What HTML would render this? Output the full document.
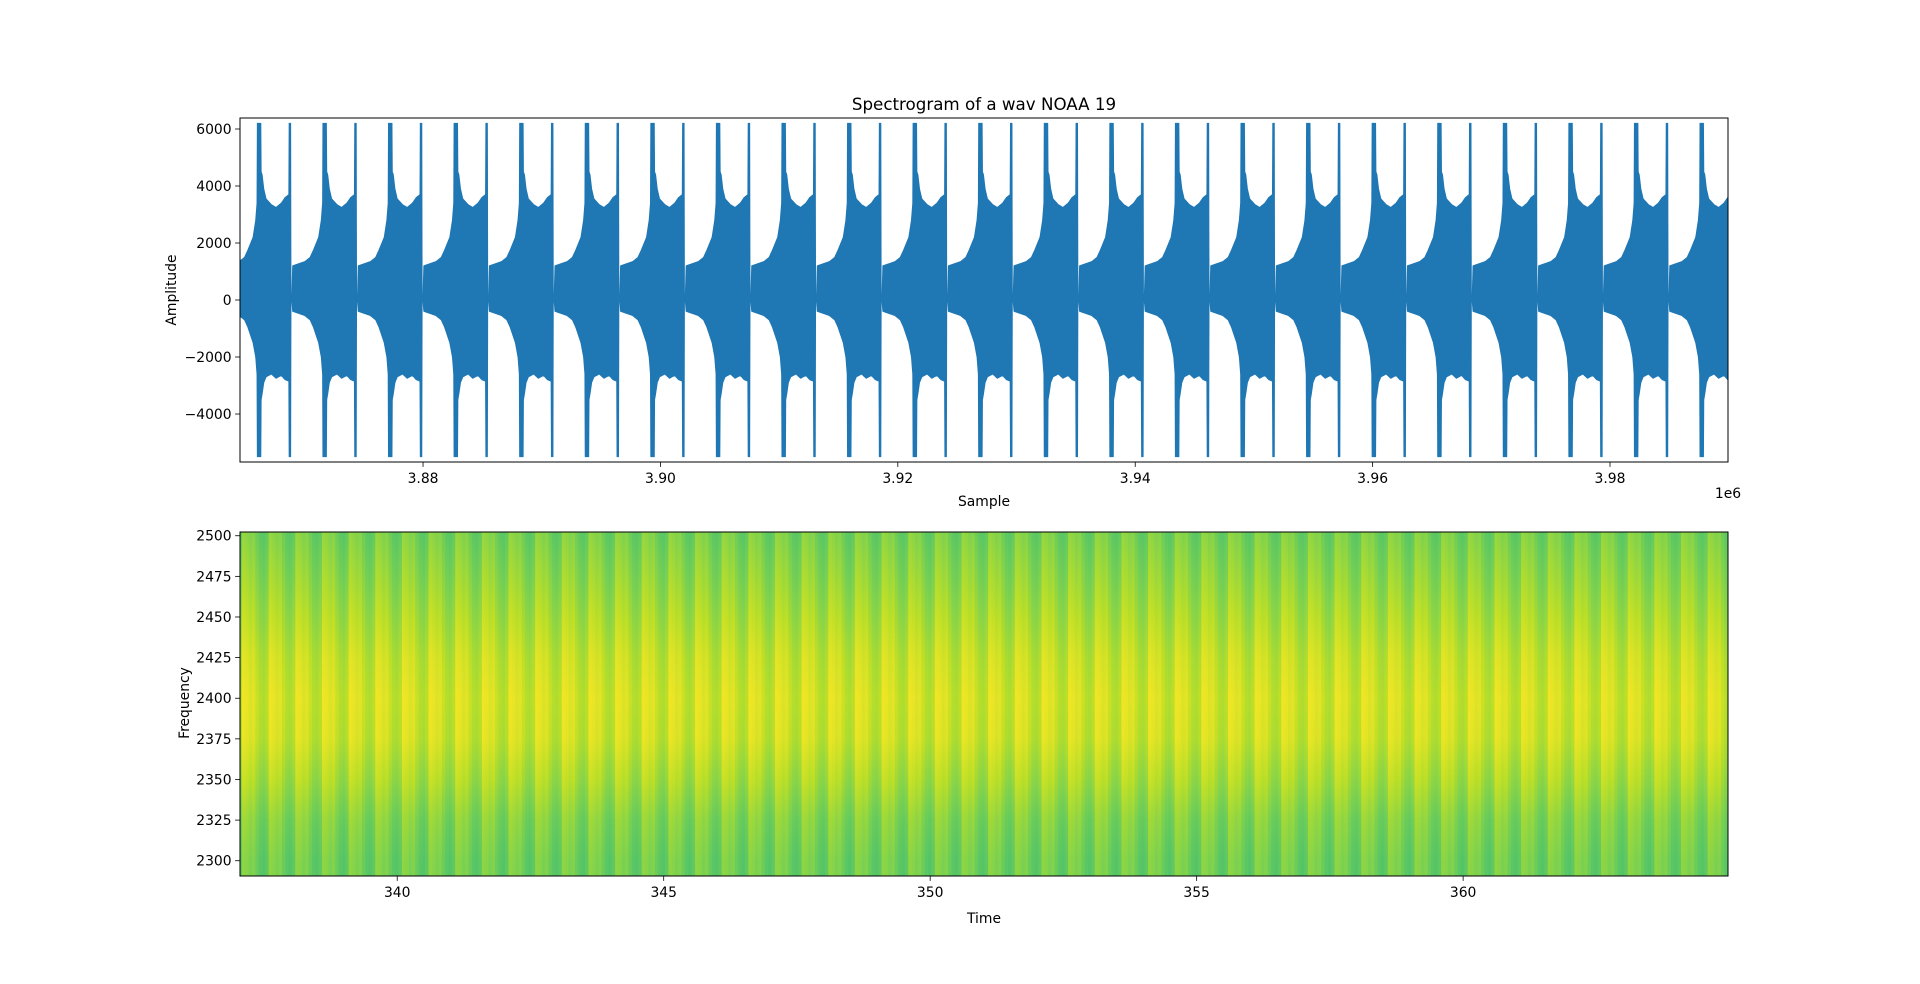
<!DOCTYPE html>
<html><head><meta charset="utf-8"><title>Spectrogram of a wav NOAA 19</title>
<style>
html,body{margin:0;padding:0;background:#fff;}
svg{display:block;font-family:"DejaVu Sans","Liberation Sans",sans-serif;}
</style></head>
<body>
<svg id="fig" width="1920" height="984" viewBox="0 0 1920 984">
  <defs>
    <clipPath id="clipTop"><rect x="240" y="118" width="1488" height="344"/></clipPath>
    <clipPath id="clipBot"><rect x="240" y="532" width="1488" height="344"/></clipPath>
  </defs>
  <text x="984" y="110" font-size="16.7" text-anchor="middle" fill="#000">Spectrogram of a wav NOAA 19</text>
  <g id="wave" clip-path="url(#clipTop)"></g>
  <g id="spec" clip-path="url(#clipBot)"></g>
  <g id="axes"></g>
</svg>
<script>
// ---------- data: waveform ----------
const waveXLim = [3864580, 3989940];
const waveYLim = [-5684, 6386];
const syncGapSamples = [3863411, 3868936, 3874461, 3879985, 3885510, 3891034, 3896559, 3902083, 3907608, 3913132, 3918657, 3924181, 3929706, 3935230, 3940755, 3946279, 3951804, 3957328, 3962853, 3968377, 3973902, 3979426, 3984951, 3990475];
const envelopePhase = [0, 0.014, 0.2, 0.28, 0.33, 0.41, 0.45, 0.47, 0.475, 0.53, 0.535, 0.55, 0.575, 0.61, 0.69, 0.76, 0.84, 0.9, 0.955, 0.96, 0.985, 0.99];
const envelopeUpper = [0, 1200, 1350, 1500, 1750, 2200, 2800, 3400, 6200, 6200, 4500, 4400, 3900, 3550, 3350, 3250, 3400, 3600, 3700, 6200, 6200, 0];
const envelopeLower = [0, -400, -550, -700, -950, -1500, -2000, -2600, -5500, -5500, -3500, -3300, -2900, -2700, -2600, -2750, -2650, -2800, -2850, -5500, -5500, 0];
const waveXTicks = [3880000, 3900000, 3920000, 3940000, 3960000, 3980000];
const waveXTickLabels = ["3.88", "3.90", "3.92", "3.94", "3.96", "3.98"];
const waveYTicks = [-4000, -2000, 0, 2000, 4000, 6000];
const waveYTickLabels = ["\u22124000", "\u22122000", "0", "2000", "4000", "6000"];
// ---------- data: spectrogram ----------
const specXLim = [337.05, 364.97];
const specYLim = [2290.6, 2502.3];
const specFreqs = [2500, 2475, 2450, 2425, 2400, 2375, 2350, 2325, 2300];
const specRowLevel = [0.80, 0.84, 0.88, 0.92, 0.94, 0.93, 0.88, 0.82, 0.79];
const specStripeStart = 337.15;
const specStripePeriod = 0.5;
const specStripeOffset = [0.03, 0.01, 0.02, -0.02, -0.05, -0.06, -0.04, 0.04];
const specXTicks = [340, 345, 350, 355, 360];
const specXTickLabels = ["340", "345", "350", "355", "360"];
const specYTicks = [2300, 2325, 2350, 2375, 2400, 2425, 2450, 2475, 2500];
const specYTickLabels = ["2300", "2325", "2350", "2375", "2400", "2425", "2450", "2475", "2500"];

const NS = "http://www.w3.org/2000/svg";
const L = 240, R = 1728, W = R - L;
const T1 = 118, B1 = 462, T2 = 532, B2 = 876, H = 344;
function el(tag, attrs, parent) { const e = document.createElementNS(NS, tag); for (const k in attrs) e.setAttribute(k, attrs[k]); parent.appendChild(e); return e; }
const wx = s => L + (s - waveXLim[0]) / (waveXLim[1] - waveXLim[0]) * W;
const wy = v => B1 - (v - waveYLim[0]) / (waveYLim[1] - waveYLim[0]) * H;
const sx = t => L + (t - specXLim[0]) / (specXLim[1] - specXLim[0]) * W;
const sy = f => B2 - (f - specYLim[0]) / (specYLim[1] - specYLim[0]) * H;

// ---------- waveform ----------
const wave = document.getElementById('wave');
let up = [], lo = [];
for (let i = 0; i < syncGapSamples.length - 1; i++) {
  const s0 = syncGapSamples[i], per = syncGapSamples[i + 1] - s0;
  for (let j = 0; j < envelopePhase.length; j++) {
    const x = wx(s0 + envelopePhase[j] * per);
    up.push(x.toFixed(2) + ',' + wy(envelopeUpper[j]).toFixed(2));
    lo.push(x.toFixed(2) + ',' + wy(envelopeLower[j]).toFixed(2));
  }
}
const wp = el('polygon', {points: up.concat(lo.reverse()).join(' '), fill: '#1f77b4', stroke: '#1f77b4', 'stroke-width': '0.8', 'stroke-linejoin': 'round'}, wave);



// ---------- spectrogram ----------
const VIR = [[0.0,[68,1,84]],[0.1,[72,36,117]],[0.2,[65,68,135]],[0.3,[53,95,141]],[0.4,[42,120,142]],[0.5,[33,145,140]],[0.6,[34,168,132]],[0.7,[68,191,112]],[0.8,[122,209,81]],[0.9,[189,223,38]],[1.0,[253,231,37]]];
function viridis(v) { v = Math.max(0, Math.min(1, v)); for (let i = 1; i < VIR.length; i++) { if (v <= VIR[i][0]) { const a = VIR[i-1], b = VIR[i], t = (v - a[0]) / (b[0] - a[0]); return 'rgb(' + a[1].map((c, k) => Math.round(c + (b[1][k] - c) * t)).join(',') + ')'; } } return 'rgb(253,231,37)'; }
const svg = document.getElementById('fig');
const defs = svg.querySelector('defs');
specStripeOffset.forEach((off, k) => {
  const g = el('linearGradient', {id: 'sg' + k, x1: '0', y1: String(sy(specYLim[1])), x2: '0', y2: String(sy(specYLim[0])), gradientUnits: 'userSpaceOnUse'}, defs);
  specFreqs.forEach((f, r) => {
    el('stop', {offset: ((sy(f) - sy(specYLim[1])) / H).toFixed(4), 'stop-color': viridis(specRowLevel[r] + off)}, g);
  });
});
const spec = document.getElementById('spec');
const sub = specStripePeriod / specStripeOffset.length;
for (let t = specStripeStart - specStripePeriod, c = 0; t < specXLim[1]; t += sub, c++) {
  const k = c % specStripeOffset.length;
  const x0 = sx(t), x1 = sx(t + sub);
  const r = el('rect', {x: x0.toFixed(2), y: T2, width: (x1 - x0 + 0.4).toFixed(2), height: H, fill: 'url(#sg' + k + ')'}, spec);
  
  
}

// ---------- axes ----------
const axes = document.getElementById('axes');
function frame(top, name) {
  const f = el('rect', {x: L, y: top, width: W, height: H, fill: 'none', stroke: '#000', 'stroke-width': '1'}, axes);
  
  
}
frame(T1, 'waveform-axes-frame');
frame(T2, 'spectrogram-axes-frame');
function xticks(ticks, labels, fx, bottom, name) {
  ticks.forEach((v, i) => {
    const x = fx(v);
    el('line', {x1: x, y1: bottom, x2: x, y2: bottom + 4.9, stroke: '#000', 'stroke-width': '0.8'}, axes);
    const t = el('text', {x: x, y: bottom + 21, 'font-size': '13.9', 'text-anchor': 'middle', fill: '#000'}, axes);
    t.textContent = labels[i];
    
    
  });
}
function yticks(ticks, labels, fy, name) {
  ticks.forEach((v, i) => {
    const y = fy(v);
    el('line', {x1: L - 4.9, y1: y, x2: L, y2: y, stroke: '#000', 'stroke-width': '0.8'}, axes);
    const t = el('text', {x: L - 8.4, y: y + 5, 'font-size': '13.9', 'text-anchor': 'end', fill: '#000'}, axes);
    t.textContent = labels[i];
    
    
  });
}
xticks(waveXTicks, waveXTickLabels, wx, B1, 'waveform-x-tick-label');
yticks(waveYTicks, waveYTickLabels, wy, 'waveform-y-tick-label');
xticks(specXTicks, specXTickLabels, sx, B2, 'spectrogram-x-tick-label');
yticks(specYTicks, specYTickLabels, sy, 'spectrogram-y-tick-label');
</script>
<div style="position:absolute;left:0;top:0;width:1920px;height:984px;pointer-events:none;font-family:'DejaVu Sans','Liberation Sans',sans-serif;font-size:13.9px;color:#000;">
  <div style="position:absolute;left:944px;top:494px;width:80px;text-align:center;">Sample</div>
  <div style="position:absolute;left:1700px;top:486px;width:56px;text-align:center;">1e6</div>
  <div style="position:absolute;left:122px;top:282px;width:100px;text-align:center;transform:rotate(-90deg);">Amplitude</div>
  <div style="position:absolute;left:944px;top:911px;width:80px;text-align:center;">Time</div>
  <div style="position:absolute;left:135px;top:695px;width:100px;text-align:center;transform:rotate(-90deg);">Frequency</div>
</div>
</body></html>
